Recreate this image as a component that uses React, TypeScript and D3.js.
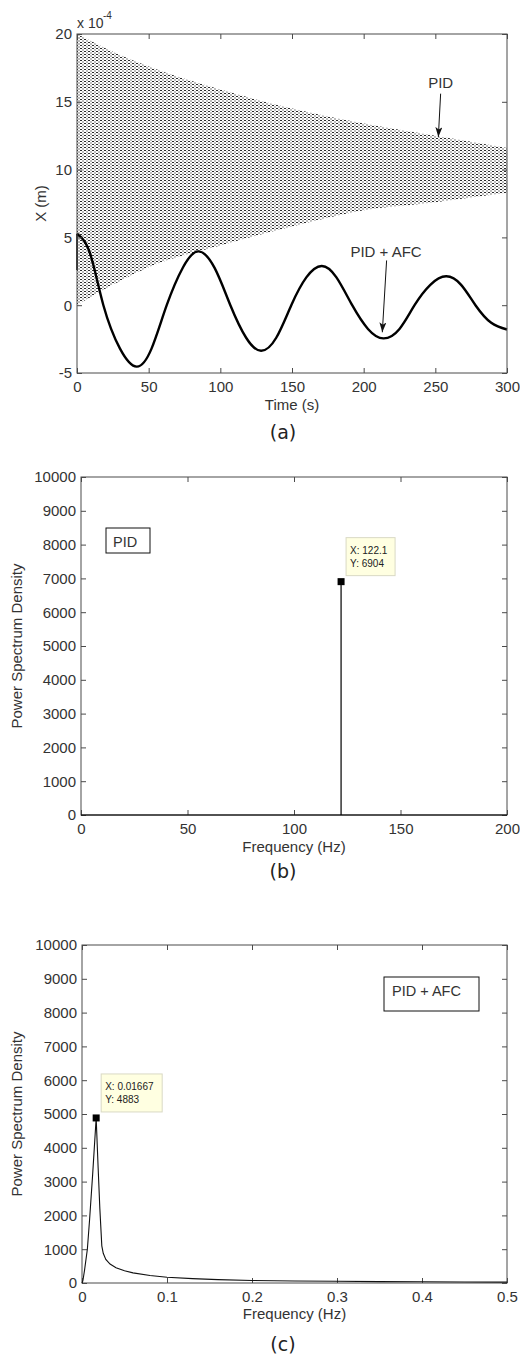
import { useEffect, useRef } from 'react';
import * as d3 from 'd3';

// (a) displacement vs time, in units of 1e-4 m
const afcStartX = 2.6; // value just before the jump at t = 0
const afcTime = [0, 9, 18.4, 30, 41.6, 52, 62.6, 74, 84.7, 96, 107, 118, 128.4, 139, 149.5, 160, 170.7, 181, 192, 203, 213.8, 225, 235.5, 246.5, 257.5, 268, 278, 289, 300];
const afcX = [5.27, 3.85, 0, -3.2, -4.53, -3.2, 0, 2.8, 3.97, 2.75, 0, -2.4, -3.36, -2.4, 0, 2.05, 2.89, 2.05, 0, -1.75, -2.45, -1.75, 0, 1.5, 2.13, 1.5, 0, -1.3, -1.79];
// PID response oscillates too fast to resolve: kept as its envelope
const pidEnvTime = [0, 25, 50, 100, 150, 200, 250, 300];
const pidUpper = [20, 18.7, 17.6, 15.9, 14.5, 13.4, 12.5, 11.6];
const pidLower = [0, 1.5, 2.8, 4.4, 5.8, 7.0, 7.6, 8.3];
const timeTicks = [0, 50, 100, 150, 200, 250, 300];
const dispTicks = [-5, 0, 5, 10, 15, 20];

// (b) PSD with PID
const pidFreq = [0, 122.1, 122.1, 122.1, 200];
const pidPsd = [0, 0, 6904, 0, 0];
const pidPeak = { f: 122.1, p: 6904 };
const freqTicksB = [0, 50, 100, 150, 200];

// (c) PSD with PID + AFC
const afcFreq = [0, 0.001, 0.003, 0.0063, 0.009, 0.0125, 0.01667, 0.019, 0.021, 0.0233, 0.025, 0.028, 0.033, 0.04, 0.05, 0.06, 0.08, 0.1, 0.13, 0.16, 0.2, 0.25, 0.3, 0.35, 0.4, 0.45, 0.5];
const afcPsd = [0, 60, 380, 1000, 1900, 3200, 4883, 3400, 2200, 1100, 880, 700, 560, 450, 360, 300, 220, 170, 130, 100, 75, 60, 50, 42, 36, 30, 26];
const afcPeak = { f: 0.01667, p: 4883 };
const freqTicksC = [0, 0.1, 0.2, 0.3, 0.4, 0.5];

const psdTicks = d3.range(0, 10001, 1000);

const FONT = '"Liberation Sans", Arial, Helvetica, sans-serif';
const AXIS = '#4a4a4a';
const TEXT = '#333';

function frame(svg, box, x, y, xTicks, yTicks) {
  const g = svg.append('g');
  const { l, r, t, b } = box;
  const fmt = d => String(d);
  g.append('g').attr('transform', `translate(0,${b})`)
    .call(d3.axisBottom(x).tickValues(xTicks).tickSize(-5).tickPadding(8).tickFormat(fmt));
  g.append('g').attr('transform', `translate(0,${t})`)
    .call(d3.axisTop(x).tickValues(xTicks).tickSize(-5).tickFormat(() => ''));
  g.append('g').attr('transform', `translate(${l},0)`)
    .call(d3.axisLeft(y).tickValues(yTicks).tickSize(-5).tickPadding(5).tickFormat(fmt));
  g.append('g').attr('transform', `translate(${r},0)`)
    .call(d3.axisRight(y).tickValues(yTicks).tickSize(-5).tickFormat(() => ''));
  g.selectAll('.domain').remove();
  g.selectAll('.tick line').attr('stroke', AXIS);
  g.selectAll('.tick text').attr('font-family', FONT).attr('font-size', 15).attr('fill', TEXT);
  g.append('rect').attr('x', l).attr('y', t).attr('width', r - l).attr('height', b - t)
    .attr('fill', 'none').attr('stroke', AXIS);
}

function label(svg, text, x, y, opts = {}) {
  const el = svg.append('text').attr('x', x).attr('y', y).text(text)
    .attr('font-family', opts.family || FONT).attr('font-size', opts.size || 15)
    .attr('fill', opts.fill || TEXT).attr('text-anchor', opts.anchor || 'middle');
  if (opts.rotate) el.attr('transform', `rotate(-90,${x},${y})`);
  return el;
}

function dataTip(svg, px, py, lines, w) {
  svg.append('rect').attr('x', px + 5).attr('y', py - 44).attr('width', w).attr('height', 38)
    .attr('fill', '#ffffe1').attr('stroke', '#d9d9c4');
  lines.forEach((s, i) => {
    svg.append('text').attr('x', px + 9).attr('y', py - 28 + i * 13).text(s)
      .attr('font-family', FONT).attr('font-size', 10).attr('fill', '#222');
  });
  svg.append('rect').attr('x', px - 3.5).attr('y', py - 3.5).attr('width', 7).attr('height', 7).attr('fill', '#000');
}

export default function App() {
  const ref = useRef(null);

  useEffect(() => {
    document.body.style.margin = '0';
    const svg = d3.select(ref.current);
    svg.selectAll('*').remove();

    const defs = svg.append('defs');
    const pat = defs.append('pattern').attr('id', 'pidHatch')
      .attr('patternUnits', 'userSpaceOnUse').attr('width', 4).attr('height', 3);
    pat.append('rect').attr('x', 0).attr('y', 0).attr('width', 2).attr('height', 1).attr('fill', '#2a2a2a');
    pat.append('rect').attr('x', 2).attr('y', 1.5).attr('width', 2).attr('height', 1).attr('fill', '#7a7a7a');
    defs.append('marker').attr('id', 'arrow').attr('markerUnits', 'userSpaceOnUse')
      .attr('viewBox', '0 0 10 7').attr('refX', 10).attr('refY', 3.5)
      .attr('markerWidth', 10).attr('markerHeight', 7).attr('orient', 'auto')
      .append('path').attr('d', 'M0,0L10,3.5L0,7L2.5,3.5Z').attr('fill', '#111');

    // ---- (a)
    const A = { l: 77, r: 507, t: 34, b: 373 };
    const xa = d3.scaleLinear().domain([0, 300]).range([A.l, A.r]);
    const ya = d3.scaleLinear().domain([-5, 20]).range([A.b, A.t]);
    const band = d3.area()
      .x((d, i) => xa(pidEnvTime[i]))
      .y0((d, i) => ya(pidLower[i]))
      .y1((d, i) => ya(pidUpper[i]))
      .curve(d3.curveMonotoneX);
    svg.append('path').attr('d', band(pidEnvTime)).attr('fill', 'url(#pidHatch)');
    const afcLine = d3.line()
      .x((d, i) => xa(afcTime[i]))
      .y((d, i) => ya(afcX[i]))
      .curve(d3.curveNatural);
    svg.append('line').attr('x1', xa(0)).attr('x2', xa(afcTime[0]))
      .attr('y1', ya(afcStartX)).attr('y2', ya(afcX[0])).attr('stroke', '#000').attr('stroke-width', 1.6);
    svg.append('path').attr('d', afcLine(afcTime)).attr('fill', 'none')
      .attr('stroke', '#000').attr('stroke-width', 2.4);
    frame(svg, A, xa, ya, timeTicks, dispTicks);

    svg.append('text').attr('x', 77).attr('y', 28).text('x 10')
      .attr('font-family', FONT).attr('font-size', 14).attr('fill', TEXT);
    svg.append('text').attr('x', 103).attr('y', 19).text('-4')
      .attr('font-family', FONT).attr('font-size', 10).attr('fill', TEXT);
    label(svg, 'X (m)', 46, (A.t + A.b) / 2, { rotate: true });
    label(svg, 'Time (s)', (A.l + A.r) / 2, A.b + 37);

    label(svg, 'PID', xa(253.7), ya(16.0));
    svg.append('line').attr('x1', xa(253.7)).attr('y1', ya(15.6)).attr('x2', xa(252.1)).attr('y2', ya(12.4))
      .attr('stroke', '#111').attr('marker-end', 'url(#arrow)');
    label(svg, 'PID + AFC', xa(215.6), ya(3.53));
    svg.append('line').attr('x1', xa(216)).attr('y1', ya(3.3)).attr('x2', xa(213)).attr('y2', ya(-2.0))
      .attr('stroke', '#111').attr('marker-end', 'url(#arrow)');
    label(svg, '(a)', 283, 439, { family: '"DejaVu Sans", sans-serif', size: 19, fill: '#222' });

    // ---- (b)
    const B = { l: 81, r: 507, t: 477, b: 815 };
    const xb = d3.scaleLinear().domain([0, 200]).range([B.l, B.r]);
    const yb = d3.scaleLinear().domain([0, 10000]).range([B.b, B.t]);
    frame(svg, B, xb, yb, freqTicksB, psdTicks);
    const lineB = d3.line().x((d, i) => xb(pidFreq[i])).y((d, i) => yb(pidPsd[i]));
    svg.append('path').attr('d', lineB(pidFreq)).attr('fill', 'none').attr('stroke', '#000').attr('stroke-width', 1.2);
    svg.append('rect').attr('x', B.l + 25).attr('y', B.t + 51).attr('width', 44).attr('height', 25)
      .attr('fill', '#fff').attr('stroke', '#111');
    label(svg, 'PID', B.l + 32, B.t + 70, { anchor: 'start', size: 14.5 });
    dataTip(svg, xb(pidPeak.f), yb(pidPeak.p), ['X: 122.1', 'Y: 6904'], 49);
    label(svg, 'Power Spectrum Density', 22, (B.t + B.b) / 2, { rotate: true });
    label(svg, 'Frequency (Hz)', (B.l + B.r) / 2, B.b + 37);
    label(svg, '(b)', 283, 878, { family: '"DejaVu Sans", sans-serif', size: 19, fill: '#222' });

    // ---- (c)
    const C = { l: 82, r: 507, t: 945, b: 1283 };
    const xc = d3.scaleLinear().domain([0, 0.5]).range([C.l, C.r]);
    const yc = d3.scaleLinear().domain([0, 10000]).range([C.b, C.t]);
    frame(svg, C, xc, yc, freqTicksC, psdTicks);
    const lineC = d3.line().x((d, i) => xc(afcFreq[i])).y((d, i) => yc(afcPsd[i]));
    svg.append('path').attr('d', lineC(afcFreq)).attr('fill', 'none').attr('stroke', '#111').attr('stroke-width', 1.1);
    svg.append('rect').attr('x', C.l + 302).attr('y', C.t + 32).attr('width', 95).attr('height', 34)
      .attr('fill', '#fff').attr('stroke', '#111');
    label(svg, 'PID + AFC', C.l + 310, C.t + 51, { anchor: 'start', size: 14.5 });
    dataTip(svg, xc(afcPeak.f), yc(afcPeak.p), ['X: 0.01667', 'Y: 4883'], 61);
    label(svg, 'Power Spectrum Density', 22, (C.t + C.b) / 2, { rotate: true });
    label(svg, 'Frequency (Hz)', (C.l + C.r) / 2, C.b + 36);
    label(svg, '(c)', 283, 1351, { family: '"DejaVu Sans", sans-serif', size: 19, fill: '#222' });
  }, []);

  return (
    <svg ref={ref} width={520} height={1359}
      style={{ position: 'absolute', left: 0, top: 0, background: '#fff', display: 'block' }} />
  );
}
